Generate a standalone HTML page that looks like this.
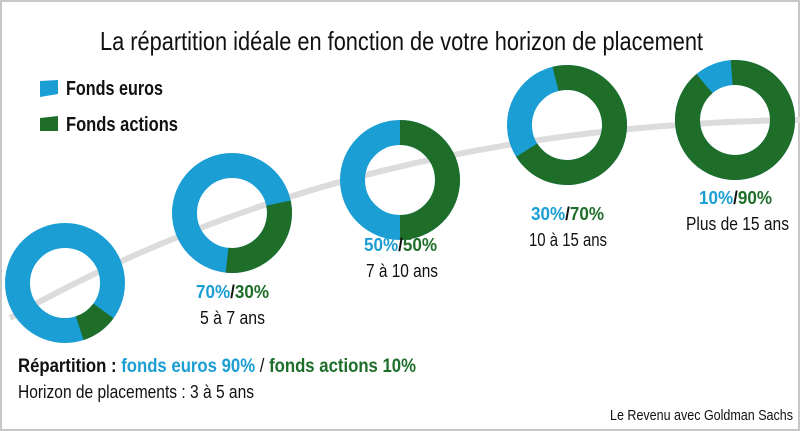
<!DOCTYPE html>
<html><head><meta charset="utf-8"><style>
html,body{margin:0;padding:0;background:#fff}
svg{display:block}
text{font-family:"Liberation Sans Narrow","Liberation Sans",sans-serif}
</style></head><body>
<svg width="800" height="431" viewBox="0 0 800 431" xmlns="http://www.w3.org/2000/svg">
<rect x="1" y="1" width="798" height="429" fill="#fff" stroke="#c8c8c8" stroke-width="2"/>
<text x="100" y="50" font-size="26" fill="#111" textLength="603" lengthAdjust="spacingAndGlyphs">La répartition idéale en fonction de votre horizon de placement</text>
<polygon points="40,81 58,80 58,94 40,97" fill="#1a9ed4"/>
<text x="66" y="95" font-size="20" font-weight="bold" fill="#111" textLength="97" lengthAdjust="spacingAndGlyphs">Fonds euros</text>
<polygon points="40,118 58,116 58,131 40,131" fill="#1e6e2a"/>
<text x="66" y="131" font-size="20" font-weight="bold" fill="#111" textLength="112" lengthAdjust="spacingAndGlyphs">Fonds actions</text>
<path d="M10 318 Q 350 125 800 120" fill="none" stroke="#dcdcdc" stroke-width="6"/>
<g id="donuts"></g>
<g font-size="18" fill="#111">
<text x="196" y="298" font-weight="bold" textLength="73" lengthAdjust="spacingAndGlyphs"><tspan fill="#1a9ed4">70%</tspan>/<tspan fill="#1e6e2a">30%</tspan></text>
<text x="200" y="324" textLength="65" lengthAdjust="spacingAndGlyphs">5 à 7 ans</text>
<text x="364" y="251" font-weight="bold" textLength="73" lengthAdjust="spacingAndGlyphs"><tspan fill="#1a9ed4">50%</tspan>/<tspan fill="#1e6e2a">50%</tspan></text>
<text x="366" y="277" textLength="72" lengthAdjust="spacingAndGlyphs">7 à 10 ans</text>
<text x="531" y="220" font-weight="bold" textLength="73" lengthAdjust="spacingAndGlyphs"><tspan fill="#1a9ed4">30%</tspan>/<tspan fill="#1e6e2a">70%</tspan></text>
<text x="529" y="246" textLength="78" lengthAdjust="spacingAndGlyphs">10 à 15 ans</text>
<text x="699" y="204" font-weight="bold" textLength="73" lengthAdjust="spacingAndGlyphs"><tspan fill="#1a9ed4">10%</tspan>/<tspan fill="#1e6e2a">90%</tspan></text>
<text x="686" y="230" textLength="103" lengthAdjust="spacingAndGlyphs">Plus de 15 ans</text>
</g>
<text x="18" y="372" font-size="19" font-weight="bold" fill="#111" textLength="398" lengthAdjust="spacingAndGlyphs">Répartition : <tspan fill="#1a9ed4">fonds euros 90%</tspan> <tspan font-weight="normal">/</tspan> <tspan fill="#1e6e2a">fonds actions 10%</tspan></text>
<text x="18" y="398" font-size="18" fill="#111" textLength="236" lengthAdjust="spacingAndGlyphs">Horizon de placements : 3 à 5 ans</text>
<text x="610" y="420" font-size="15" fill="#111" textLength="183" lengthAdjust="spacingAndGlyphs">Le Revenu avec Goldman Sachs</text>
<script>
function arc(cx,cy,r,a0,a1){var R=Math.PI/180;var x0=cx+r*Math.sin(a0*R),y0=cy-r*Math.cos(a0*R),x1=cx+r*Math.sin(a1*R),y1=cy-r*Math.cos(a1*R);return "M"+x0+" "+y0+" A"+r+" "+r+" 0 "+((a1-a0)>180?1:0)+" 1 "+x1+" "+y1;}
var ns="http://www.w3.org/2000/svg",g=document.getElementById("donuts");
var d=[[65,283,126,162],[232,213,78,186],[400,180,0,180],[567,125,-14,238],[735,120,-4,320]];
d.forEach(function(v,i){var c=document.createElementNS(ns,"circle");c.setAttribute("cx",v[0]);c.setAttribute("cy",v[1]);c.setAttribute("r",47.5);c.setAttribute("fill","none");c.setAttribute("stroke","#1a9ed4");c.setAttribute("stroke-width",25);g.appendChild(c);
var p=document.createElementNS(ns,"path");p.setAttribute("d",arc(v[0],v[1],47.5,v[2],v[3]));p.setAttribute("fill","none");p.setAttribute("stroke","#1e6e2a");p.setAttribute("stroke-width",25);g.appendChild(p);});
</script>
</svg>
</body></html>
